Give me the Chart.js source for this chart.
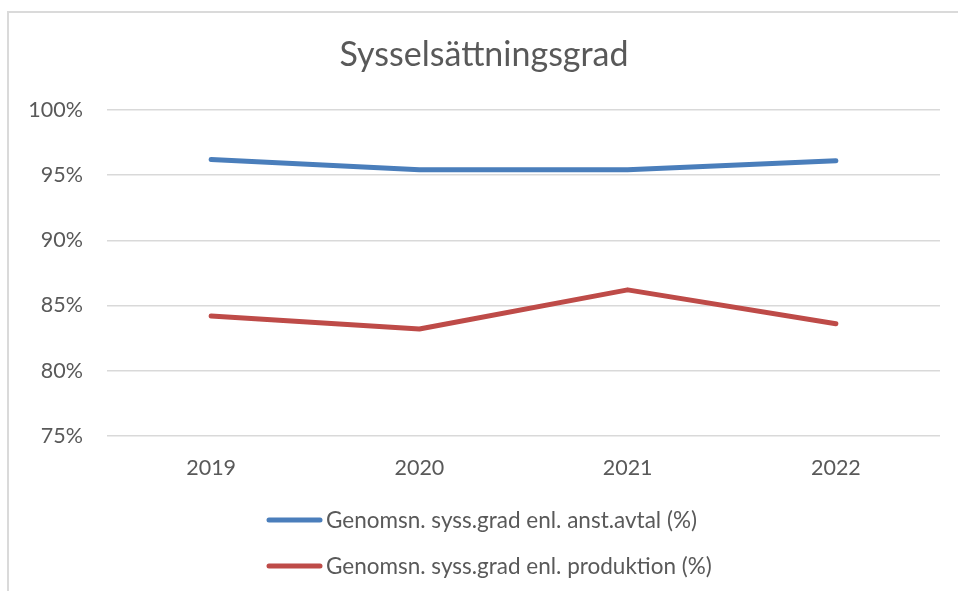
<!DOCTYPE html>
<html>
<head>
<meta charset="utf-8">
<script src="https://cdn.jsdelivr.net/npm/chart.js@4.4.0/dist/chart.umd.min.js"></script>
<style>
  body { margin: 0; background: #fff; }
  #wrap { position: relative; width: 958px; height: 591px; overflow: hidden; }
  #ram { position: absolute; left: 7px; top: 11px; width: 980px; height: 600px; border-left: 2px solid #dadada; border-top: 2px solid #dadada; }
  canvas { position: absolute; left: 0; top: 0; }
</style>
</head>
<body>
<div id="wrap">
  <div id="ram"></div>
  <canvas id="grafico" width="958" height="591"></canvas>
</div>
<script>
// data (percent)
const years = ['2019', '2020', '2021', '2022'];
const anstAvtal = [96.2, 95.4, 95.4, 96.1];
const produktion = [84.2, 83.2, 86.2, 83.6];
const yTicks = [75, 80, 85, 90, 95, 100];

const labelAnst = 'Genomsn. syss.grad enl. anst.avtal (%)';
const labelProd = 'Genomsn. syss.grad enl. produktion (%)';

const textColor = '#595959';
const gridColor = '#d9d9d9';

// legend drawn as two rows under the x axis, like in Excel
const legendaLinjer = {
    id: 'legendaLinjer',
    afterDraw(chart) {
        const ctx = chart.ctx;
        const area = chart.chartArea;
        ctx.save();
        ctx.font = '22.5px Lato';
        ctx.textBaseline = 'middle';
        ctx.fillStyle = textColor;
        chart.data.datasets.forEach((ds, i) => {
            const y = area.bottom + 84 + i * 46;
            ctx.strokeStyle = ds.borderColor;
            ctx.lineWidth = 5;
            ctx.lineCap = 'round';
            ctx.beginPath();
            ctx.moveTo(269, y);
            ctx.lineTo(320, y);
            ctx.stroke();
            ctx.fillText(ds.label, 326, y + 1);
        });
        ctx.restore();
    }
};

const grafico = new Chart(document.getElementById('grafico'), {
    type: 'line',
    data: {
        labels: years,
        datasets: [{
            label: labelAnst,
            data: anstAvtal,
            borderColor: '#4a7ebb',
            borderWidth: 5,
            borderCapStyle: 'round',
            borderJoinStyle: 'round',
            pointRadius: 0,
            tension: 0
        }, {
            label: labelProd,
            data: produktion,
            borderColor: '#be4b48',
            borderWidth: 5,
            borderCapStyle: 'round',
            borderJoinStyle: 'round',
            pointRadius: 0,
            tension: 0
        }]
    },
    options: {
        responsive: false,
        animation: false,
        layout: {
            // left padding a bit bigger so the title sits where it does in the original
            padding: { left: 28, right: 18, top: 0, bottom: 110 }
        },
        plugins: {
            legend: { display: false },
            tooltip: { enabled: false },
            title: {
                display: true,
                text: 'Sysselsättningsgrad',
                color: textColor,
                font: { family: 'Lato', size: 34, weight: 'normal', lineHeight: 1.2 },
                padding: { top: 35, bottom: 34 }
            }
        },
        scales: {
            x: {
                offset: true,
                grid: { display: false, drawTicks: false },
                border: { display: false },
                ticks: {
                    color: textColor,
                    font: { family: 'Lato', size: 21.5 },
                    padding: 19,
                    maxRotation: 0
                },
                afterFit(scale) { scale.height = 45; }
            },
            y: {
                min: 75,
                max: 100,
                grid: { color: gridColor, lineWidth: 1.5, drawTicks: false },
                border: { display: false },
                afterBuildTicks(scale) {
                    scale.ticks = yTicks.map(v => ({ value: v }));
                },
                ticks: {
                    color: textColor,
                    font: { family: 'Lato', size: 21.5 },
                    padding: 24,
                    callback: v => v + '%'
                },
                afterFit(scale) { scale.width = 79; }
            }
        }
    },
    plugins: [legendaLinjer]
});
</script>
</body>
</html>
